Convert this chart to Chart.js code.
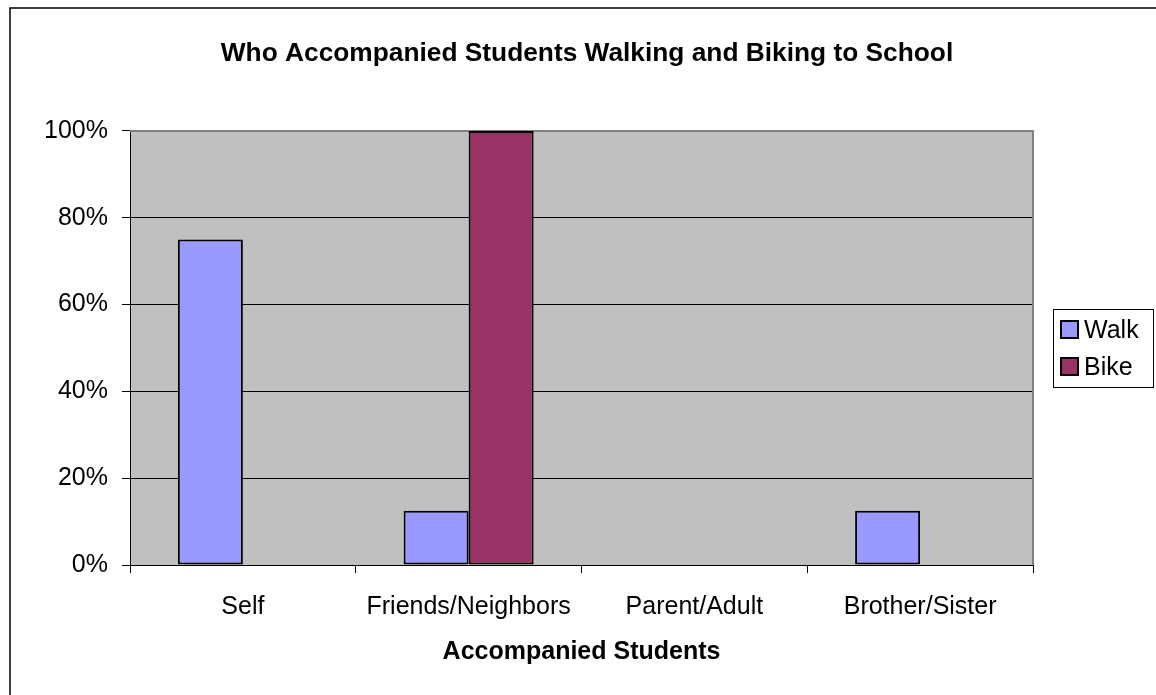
<!DOCTYPE html>
<html>
<head>
<meta charset="utf-8">
<script src="https://cdn.jsdelivr.net/npm/chart.js@4/dist/chart.umd.min.js"></script>
<style>
html,body{margin:0;padding:0;background:#fff;}
#wrap{width:1156px;height:695px;position:relative;}
</style>
</head>
<body>
<div id="wrap"><canvas id="c" width="1156" height="695"></canvas></div>
<script>
const categories = ['Self', 'Friends/Neighbors', 'Parent/Adult', 'Brother/Sister'];
const seriesNames = ['Walk', 'Bike'];
const walkValues = [0.75, 0.125, 0, 0.125];
const bikeValues = [0, 1.0, 0, 0];
const yTickValues = [0, 0.2, 0.4, 0.6, 0.8, 1.0];
const yTickLabels = ['0%', '20%', '40%', '60%', '80%', '100%'];
const chartTitle = 'Who Accompanied Students Walking and Biking to School';
const xAxisTitle = 'Accompanied Students';

const FONT = "'Liberation Sans', Arial, sans-serif";
const colors = ['#9999FF', '#993366'];

const plotBg = {
  id: 'plotBg',
  beforeDraw(chart) {
    const {ctx, chartArea: a} = chart;
    ctx.save();
    ctx.fillStyle = '#C0C0C0';
    ctx.fillRect(a.left, a.top, a.right - a.left, a.bottom - a.top);
    ctx.restore();
  },
  beforeDatasetsDraw(chart) {
    const {ctx, chartArea: a} = chart;
    ctx.save();
    ctx.strokeStyle = '#808080';
    ctx.lineWidth = 2;
    ctx.beginPath();
    ctx.moveTo(a.left, a.top);
    ctx.lineTo(a.right, a.top);
    ctx.lineTo(a.right, a.bottom);
    ctx.stroke();
    ctx.restore();
  },
  afterDraw(chart) {
    const {ctx} = chart;
    ctx.save();
    ctx.strokeStyle = '#000';
    ctx.lineWidth = 1.5;
    ctx.beginPath();
    ctx.moveTo(10, 700);
    ctx.lineTo(10, 8);
    ctx.lineTo(1160, 8);
    ctx.stroke();
    const lx = 1053, ly = 309, lw = 100, lh = 78;
    ctx.fillStyle = '#fff';
    ctx.fillRect(lx, ly, lw, lh);
    ctx.strokeStyle = '#000';
    ctx.lineWidth = 1;
    ctx.strokeRect(lx + 0.5, ly + 0.5, lw, lh);
    ctx.font = '25px ' + FONT;
    ctx.textBaseline = 'alphabetic';
    ctx.textAlign = 'left';
    chart.data.datasets.forEach((ds, i) => {
      const sy = 321 + i * 37;
      ctx.fillStyle = ds.backgroundColor;
      ctx.fillRect(1061, sy, 17, 17);
      ctx.lineWidth = 2;
      ctx.strokeStyle = '#000';
      ctx.strokeRect(1061, sy, 17, 17);
      ctx.fillStyle = '#000';
      ctx.fillText(ds.label, 1084, sy + 17);
    });
    ctx.restore();
  }
};

new Chart(document.getElementById('c'), {
  type: 'bar',
  data: {
    labels: categories,
    datasets: [
      {label: seriesNames[0], data: walkValues, backgroundColor: colors[0]},
      {label: seriesNames[1], data: bikeValues, backgroundColor: colors[1]}
    ]
  },
  options: {
    responsive: false,
    animation: false,
    devicePixelRatio: 1,
    layout: {padding: {left: 18, right: 0, top: 0, bottom: 0}},
    datasets: {
      bar: {
        categoryPercentage: 0.576,
        barPercentage: 1.0,
        borderColor: '#000',
        borderWidth: (c) => (c.raw ? 2 : 0),
        borderSkipped: false
      }
    },
    plugins: {
      legend: {display: false},
      tooltip: {enabled: false},
      title: {
        display: true,
        text: chartTitle,
        color: '#000',
        font: {family: FONT, size: 26.3, weight: 'bold', lineHeight: 1.2},
        padding: {top: 38.2, bottom: 61.2}
      }
    },
    scales: {
      x: {
        grid: {
          offset: true,
          drawOnChartArea: false,
          drawTicks: true,
          tickLength: 8,
          tickColor: '#000',
          tickWidth: 1
        },
        border: {display: true, color: '#000', width: 1},
        ticks: {
          color: '#000',
          font: {family: FONT, size: 25, lineHeight: 1.2},
          padding: 19,
          maxRotation: 0,
          autoSkip: false
        },
        title: {
          display: true,
          text: xAxisTitle,
          color: '#000',
          font: {family: FONT, size: 25, weight: 'bold', lineHeight: 1.2},
          padding: {top: 0, bottom: 28}
        },
        afterFit(scale) { scale.height = 130; }
      },
      y: {
        min: 0,
        max: 1,
        afterBuildTicks(scale) { scale.ticks = yTickValues.map(v => ({value: v})); },
        grid: {
          color: (c) => (c.tick && (c.tick.value === 0 || c.tick.value === 1) ? 'rgba(0,0,0,0)' : '#000'),
          lineWidth: 1,
          drawTicks: true,
          tickLength: 8,
          tickColor: '#000'
        },
        border: {display: true, color: '#000', width: 1},
        ticks: {
          color: '#000',
          font: {family: FONT, size: 25},
          padding: 14,
          callback: (v) => yTickLabels[yTickValues.indexOf(v)]
        },
        afterFit(scale) { scale.width = 112; }
      },
      yRight: {
        type: 'linear',
        position: 'right',
        display: true,
        grid: {display: false, drawTicks: false},
        border: {display: false},
        ticks: {display: false},
        afterFit(scale) { scale.width = 123; }
      }
    }
  },
  plugins: [plotBg]
});
</script>
</body>
</html>
